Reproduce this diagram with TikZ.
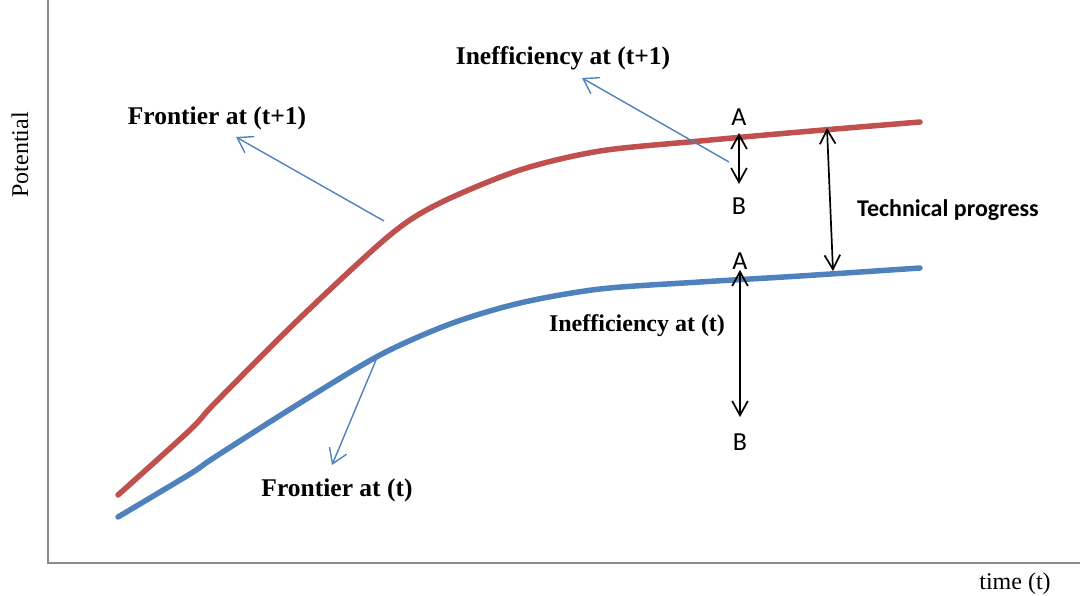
\documentclass[tikz,border=0pt]{standalone}
\usepackage{fontspec}
\setmainfont{Liberation Serif}
\newfontfamily\calibri{Carlito}
\usetikzlibrary{arrows.meta,positioning}
\definecolor{frontred}{HTML}{C0504D}
\definecolor{frontblue}{HTML}{4F81BD}
\tikzset{
  tag/.style={font=\fontsize{25.5}{28}\selectfont\bfseries, inner sep=1pt},
  axistag/.style={font=\fontsize{24}{26}\selectfont, inner sep=1pt},
  ab/.style={font=\calibri\fontsize{26}{28}\selectfont, inner sep=1pt},
  frontier/.style={line width=5.5pt, line cap=round},
  pointer/.style={draw=frontblue, line width=1.4pt, -{Straight Barb[length=5mm,width=6.5mm]}},
  gap/.style={line width=1.7pt, {Straight Barb[length=5mm,width=5.5mm]}-{Straight Barb[length=5mm,width=5.5mm]}},
  axis/.style={draw=black!45, line width=1.5pt}
}
\begin{document}
\begin{tikzpicture}[x=1pt, y=-1pt]
\useasboundingbox (0,0) rectangle (1080,596);
% axes
\coordinate (ytop) at (48,0);
\coordinate (orig) at (48,563);
\coordinate (xend) at (1080,563);
\draw[axis] (ytop) -- (orig) -- (xend);
\node[axistag, rotate=90] (ylab) at (20,155) {Potential};
\node[axistag] (xlab) at (1015,584) {time (t)};

% frontiers
\draw[frontier, frontred] plot[smooth, tension=0.5] coordinates {(118,495) (190,430) (215,403) (300,318) (390,235) (440,203) (520,170) (600,151) (700,141) (800,132) (920,122)};
\draw[frontier, frontblue] plot[smooth, tension=0.5] coordinates {(118,517) (190,474) (215,457) (300,403) (380,355) (450,324) (520,303) (600,289) (700,282) (800,276) (920,268)};

% labels with pointers
\node[tag] (frontnext) at (217,118) {Frontier at (t+1)};
\coordinate (frontnextFrom) at (384,221);
\coordinate (frontnextTip) at (236,137);
\draw[pointer] (frontnextFrom) -- (frontnextTip);

\node[tag] (ineffnext) at (563,58) {Inefficiency at (t+1)};
\coordinate (ineffnextFrom) at (729,162);
\coordinate (ineffnextTip) at (582,78);
\draw[pointer] (ineffnextFrom) -- (ineffnextTip);

\node[tag] (frontnow) at (337,490) {Frontier at (t)};
\coordinate (frontnowFrom) at (376,360);
\coordinate (frontnowTip) at (332,465);
\draw[pointer] (frontnowFrom) -- (frontnowTip);

\node[tag, font=\fontsize{24}{26}\selectfont\bfseries] (ineffnow) at (637,326) {Inefficiency at (t)};

% inefficiency gaps
\coordinate (gapTopA) at (739,133);
\coordinate (gapTopB) at (739,184);
\node[ab, above=6pt of gapTopA] (aTop) {A};
\node[ab, below=13pt of gapTopB] (bTop) {B};
\draw[gap] (gapTopA) -- (gapTopB);

\coordinate (gapLowA) at (740,270);
\coordinate (gapLowB) at (740,417);
\node[ab, above=-1pt of gapLowA] (aLow) {A};
\node[ab, below=16pt of gapLowB] (bLow) {B};
\draw[gap] (gapLowA) -- (gapLowB);

% technical progress
\coordinate (progTop) at (827,128);
\coordinate (progLow) at (833,271);
\draw[gap] (progTop) -- (progLow);
\node[font=\calibri\fontsize{24}{26}\selectfont\bfseries, inner sep=1pt] (prog) at (948,210) {Technical progress};
\end{tikzpicture}
\end{document}
